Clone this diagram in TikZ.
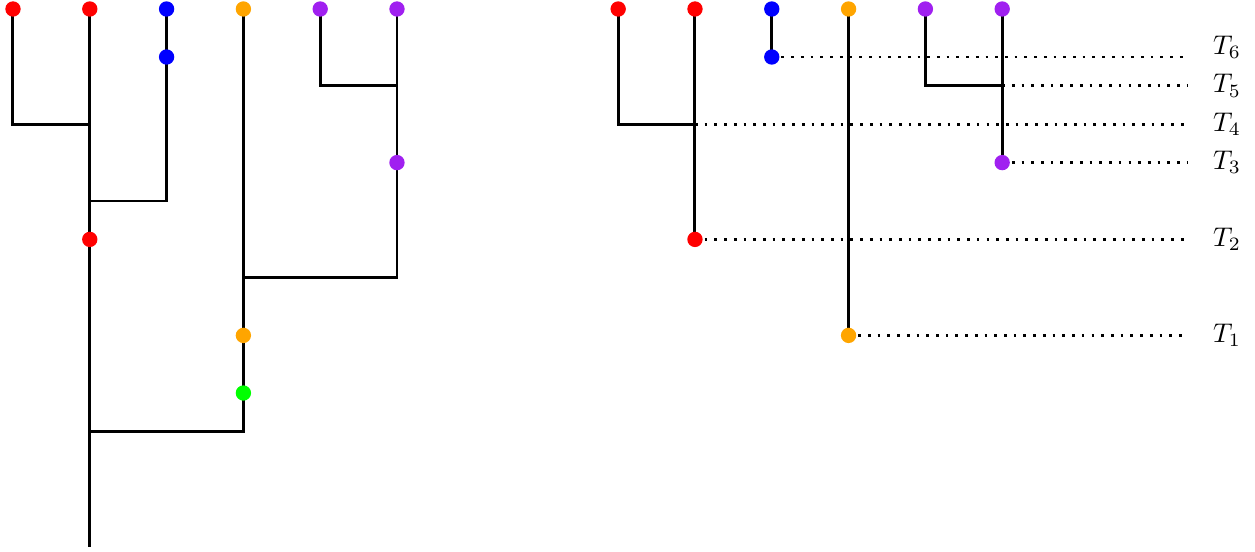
\documentclass[tikz,border=0pt]{standalone}
\definecolor{cred}{RGB}{255,0,0}
\definecolor{cblue}{RGB}{0,0,255}
\definecolor{corange}{RGB}{255,165,0}
\definecolor{cpurple}{RGB}{160,32,240}
\definecolor{cgreen}{RGB}{0,255,0}
\tikzset{
  branch/.style={line width=1.1pt, line join=miter},
  guide/.style={line width=1pt, dash pattern=on 1pt off 2.6pt},
  dot/.style={circle, fill=#1, draw=none, inner sep=0pt, minimum size=0.2cm},
  tlabel/.style={anchor=west, inner sep=0pt}
}
\begin{document}
\begin{tikzpicture}
\useasboundingbox (-0.169,0.117) rectangle (16.172,-7.07);
% ---------- left tree ----------
\coordinate (la1) at (0,0);
\coordinate (la2) at (1,0);
\coordinate (la3) at (2,0);
\coordinate (la4) at (3,0);
\coordinate (la5) at (4,0);
\coordinate (la6) at (5,0);
\coordinate (lc1) at (0,-1.5);
\coordinate (lj1) at (1,-1.5);
\coordinate (lb1) at (2,-0.625);
\coordinate (lc3) at (2,-2.5);
\coordinate (lj3) at (1,-2.5);
\coordinate (lr1) at (1,-3);
\coordinate (lc5) at (4,-1);
\coordinate (lj5) at (5,-1);
\coordinate (lp1) at (5,-2);
\coordinate (lc6) at (5,-3.5);
\coordinate (lj6) at (3,-3.5);
\coordinate (lo1) at (3,-4.25);
\coordinate (lg1) at (3,-5);
\coordinate (lc4) at (3,-5.5);
\coordinate (lj4) at (1,-5.5);
\coordinate (lroot) at (1,-7);
\draw[branch] (la1) -- (lc1) -- (lj1);
\draw[branch] (la2) -- (lroot);
\draw[branch] (la3) -- (lc3) -- (lj3);
\draw[branch] (la4) -- (lc4) -- (lj4);
\draw[branch] (la5) -- (lc5) -- (lj5);
\draw[branch] (la6) -- (lc6) -- (lj6);
\node[dot=cred] (nla1) at (la1) {};
\node[dot=cred] (nla2) at (la2) {};
\node[dot=cblue] (nla3) at (la3) {};
\node[dot=corange] (nla4) at (la4) {};
\node[dot=cpurple] (nla5) at (la5) {};
\node[dot=cpurple] (nla6) at (la6) {};
\node[dot=cblue] (nlb1) at (lb1) {};
\node[dot=cred] (nlr1) at (lr1) {};
\node[dot=cpurple] (nlp1) at (lp1) {};
\node[dot=corange] (nlo1) at (lo1) {};
\node[dot=cgreen] (nlg1) at (lg1) {};
% ---------- right tree ----------
\begin{scope}[xshift=7.88cm]
\coordinate (ra1) at (0,0);
\coordinate (ra2) at (1,0);
\coordinate (ra3) at (2,0);
\coordinate (ra4) at (3,0);
\coordinate (ra5) at (4,0);
\coordinate (ra6) at (5,0);
\coordinate (rc1) at (0,-1.5);
\coordinate (rj1) at (1,-1.5);
\coordinate (rb1) at (2,-0.625);
\coordinate (rr1) at (1,-3);
\coordinate (rc5) at (4,-1);
\coordinate (rj5) at (5,-1);
\coordinate (rp1) at (5,-2);
\coordinate (ro1) at (3,-4.25);
\end{scope}
\coordinate (e6) at (15.29,-0.625);
\coordinate (e5) at (15.29,-1);
\coordinate (e4) at (15.29,-1.5);
\coordinate (e3) at (15.29,-2);
\coordinate (e2) at (15.29,-3);
\coordinate (e1) at (15.29,-4.25);
\draw[guide] (rb1) -- (e6);
\draw[guide] (rj5) -- (e5);
\draw[guide] (rj1) -- (e4);
\draw[guide] (rp1) -- (e3);
\draw[guide] (rr1) -- (e2);
\draw[guide] (ro1) -- (e1);
\draw[branch] (ra1) -- (rc1) -- (rj1);
\draw[branch] (ra2) -- (rr1);
\draw[branch] (ra3) -- (rb1);
\draw[branch] (ra4) -- (ro1);
\draw[branch] (ra5) -- (rc5) -- (rj5);
\draw[branch] (ra6) -- (rp1);
\node[dot=cred] (nra1) at (ra1) {};
\node[dot=cred] (nra2) at (ra2) {};
\node[dot=cblue] (nra3) at (ra3) {};
\node[dot=corange] (nra4) at (ra4) {};
\node[dot=cpurple] (nra5) at (ra5) {};
\node[dot=cpurple] (nra6) at (ra6) {};
\node[dot=cblue] (nrb1) at (rb1) {};
\node[dot=cred] (nrr1) at (rr1) {};
\node[dot=cpurple] (nrp1) at (rp1) {};
\node[dot=corange] (nro1) at (ro1) {};
% ---------- labels ----------
\node[tlabel] (t6) at (15.62,-0.5) {$T_6$};
\node[tlabel] (t5) at (15.62,-1) {$T_5$};
\node[tlabel] (t4) at (15.62,-1.5) {$T_4$};
\node[tlabel] (t3) at (15.62,-2) {$T_3$};
\node[tlabel] (t2) at (15.62,-3) {$T_2$};
\node[tlabel] (t1) at (15.62,-4.25) {$T_1$};
\end{tikzpicture}
\end{document}
